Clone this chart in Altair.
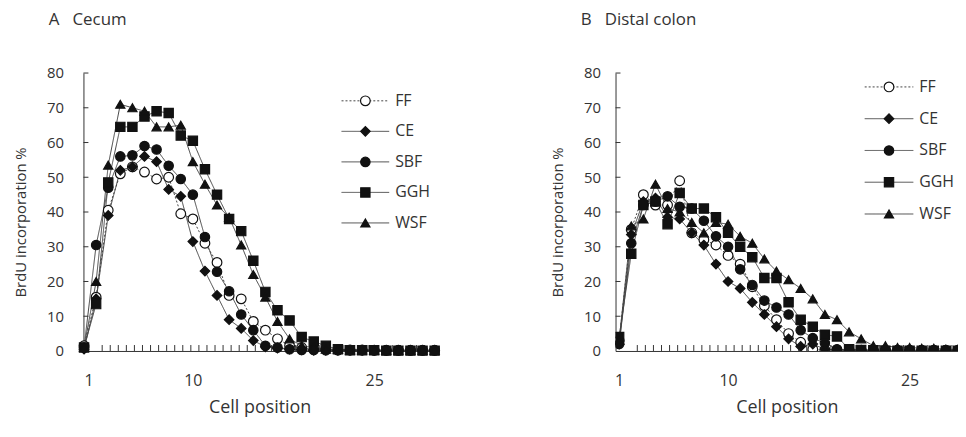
import altair as alt
import pandas as pd

positions = list(range(1, 31))
series = ["FF", "CE", "SBF", "GGH", "WSF"]

# Cecum (panel A)
cecum_ff = [1.5, 15.5, 40.5, 51, 53, 51.5, 49.5, 50, 39.5, 38, 31, 25.5, 16, 15, 8.5, 6, 3.5, 1.5, 1, 0.5,
            0.5, 0.3, 0.3, 0.3, 0.2, 0.2, 0.2, 0.2, 0.2, 0.2]
cecum_ce = [0.5, 15, 39, 52, 53, 56, 54.5, 46.5, 44.5, 31.5, 23, 16, 9, 6.5, 3, 1.2, 0.8, 0.5, 0.3, 0.2,
            0.2, 0.2, 0.2, 0.2, 0.2, 0.2, 0.2, 0.2, 0.2, 0.2]
cecum_sbf = [1, 30.5, 47, 56, 56.3, 59, 58, 53.3, 49.5, 45, 32.8, 22.8, 17.2, 10.5, 6, 1.5, 1, 0.5, 0.3, 0.3,
             0.2, 0.2, 0.2, 0.2, 0.2, 0.2, 0.2, 0.2, 0.2, 0.2]
cecum_ggh = [1, 13.5, 48.5, 64.5, 64.5, 67.5, 69, 68.5, 62, 60.5, 52.3, 45, 38, 34.5, 26, 17, 11.7, 8.8, 4, 2.7,
             1.5, 0.5, 0.2, 0.2, 0.2, 0.1, 0.1, 0.1, 0.1, 0.1]
cecum_wsf = [1, 20, 53.5, 71, 70, 69, 64.5, 64.5, 65, 54.5, 48, 42, 38.5, 30.5, 22, 15.5, 8.5, 3.5, 1.5, 1,
             0.5, 0.5, 0.3, 0.3, 0.2, 0.2, 0.2, 0.2, 0.2, 0.2]

# Distal colon (panel B)
colon_ff = [3, 35, 45, 42, 42, 49, 34, 32, 30.5, 27.5, 25, 18.5, 13, 9, 5, 2.5, 0.5, 0.3, 0.3, 0.2,
            0.2, 0.2, 0.2, 0.2, 0.2, 0.2, 0.2, 0.2, 0.2, 0.2]
colon_ce = [2, 33.5, 43, 44, 38.5, 38, 34, 30.5, 25, 20, 18, 14, 10.5, 7, 3.5, 1.3, 2, 0.5, 0.3, 0.2,
            0.2, 0.2, 0.2, 0.2, 0.2, 0.2, 0.2, 0.2, 0.2, 0.2]
colon_sbf = [2, 31, 42, 43, 44.5, 41.5, 41, 37.5, 33, 30, 23.5, 19, 14.5, 12.5, 10.5, 6, 3.7, 2.3, 0.5, 0.3,
             0.2, 0.2, 0.2, 0.2, 0.2, 0.2, 0.2, 0.2, 0.2, 0.2]
colon_ggh = [4, 28, 42, 43, 36.5, 45.5, 41, 41, 38.5, 34, 30, 27, 21, 21, 14, 9, 7, 4.7, 4.2, 0.5,
             0.3, 0.2, 0.1, 0.1, 0.1, 0.1, 0.1, 0.1, 0.1, 0.1]
colon_wsf = [3, 36, 38, 48, 41, 40, 37, 34, 37, 36.5, 33, 31, 26.5, 23, 20.5, 18, 15, 10.5, 9, 5.5,
             3.5, 1.5, 1.5, 1, 1, 0.8, 0.8, 0.5, 0.5, 0.5]

x_labels = [1, 10, 25]
y_values = [0, 10, 20, 30, 40, 50, 60, 70, 80]
y_ticks = [10, 20, 30, 40, 50, 60, 70, 80]
x_ticks = [2.5 + i * (2.0 / 3.0) for i in range(41)]

shapes = ["circle", "diamond", "circle", "square", "triangle-up"]
fills = ["white", "#111111", "#111111", "#111111", "#111111"]
sizes = [95, 85, 95, 115, 105]
dashes = [[2, 2], [1, 0], [1, 0], [1, 0], [1, 0]]

FONT = "Open Sans"
INK = "#333333"
H = 280


def long_df(cols):
    rows = []
    for name, vals in zip(series, cols):
        for p, v in zip(positions, vals):
            rows.append({"pos": p, "value": v, "series": name})
    return pd.DataFrame(rows)


def panel(cols, title, x_domain, width, ylab_pad, ytitle_pad, leg_range, leg_x, clip):
    df = long_df(cols)
    xs = alt.Scale(domain=x_domain, nice=False, zero=False)
    ys = alt.Scale(domain=[0, 80], nice=False, zero=True)
    x_axis = alt.Axis(
        values=x_labels, ticks=False, grid=False, title="Cell position",
        labelPadding=22, titlePadding=10, labelFontSize=16, titleFontSize=18,
        titleFontWeight="normal", domainColor=INK, domainWidth=1)
    x_enc = alt.X("pos:Q", scale=xs, axis=x_axis)
    y_axis_enc = alt.Y("value:Q", scale=ys, axis=alt.Axis(
        values=y_values, ticks=False, grid=False, title="BrdU incorporation %",
        labelPadding=ylab_pad, titlePadding=ytitle_pad, labelFontSize=15, titleFontSize=15,
        titleFontWeight="normal", domainColor=INK, domainWidth=1, titleY=H / 2 + 10))
    y_plain = alt.Y("value:Q", scale=ys, axis=None)
    dash_enc = alt.StrokeDash("series:N", scale=alt.Scale(domain=series, range=dashes), legend=None)
    shape_enc = alt.Shape("series:N", scale=alt.Scale(domain=series, range=shapes), legend=None)
    fill_enc = alt.Fill("series:N", scale=alt.Scale(domain=series, range=fills), legend=None)
    size_enc = alt.Size("series:N", scale=alt.Scale(domain=series, range=sizes), legend=None)

    lines = alt.Chart(df).mark_line(color="#444444", strokeWidth=1, clip=clip).encode(
        x=x_enc, y=y_axis_enc, detail="series:N", strokeDash=dash_enc)
    points = alt.Chart(df).mark_point(stroke="#111111", strokeWidth=1.2, opacity=1,
                                      fillOpacity=1, clip=clip).encode(
        x=x_enc, y=y_plain, shape=shape_enc, fill=fill_enc, size=size_enc)
    xt = alt.Chart(pd.DataFrame({"pos": [t for t in x_ticks if t < x_domain[1]]})).mark_rule(
        color=INK, strokeWidth=1).encode(
        x=x_enc, y=alt.value(H - 6), y2=alt.value(H))
    yt = alt.Chart(pd.DataFrame({"value": y_ticks})).mark_rule(color=INK, strokeWidth=1).encode(
        y=y_plain, x=alt.value(0), x2=alt.value(5))

    leg_df = pd.DataFrame({"series": series})
    ly = alt.Y("series:N", scale=alt.Scale(type="point", domain=series, range=leg_range, padding=0),
               axis=None)
    lr = alt.Chart(leg_df).mark_rule(color="#444444", strokeWidth=1).encode(
        x=alt.value(leg_x[0]), x2=alt.value(leg_x[1]), y=ly, strokeDash=dash_enc)
    lp = alt.Chart(leg_df).mark_point(stroke="#111111", strokeWidth=1.2, opacity=1,
                                      fillOpacity=1).encode(
        x=alt.value((leg_x[0] + leg_x[1]) / 2), y=ly, shape=shape_enc, fill=fill_enc, size=size_enc)
    lt = alt.Chart(leg_df).mark_text(align="left", baseline="middle", fontSize=16, font=FONT,
                                     color=INK).encode(
        x=alt.value(leg_x[1] + 6), y=ly, text="series:N")

    return alt.layer(lines, xt, yt, points, lr, lp, lt).resolve_scale(y="independent").properties(
        width=width, height=H,
        title=alt.TitleParams(title, anchor="start", frame="group", dx=-35, offset=37,
                              fontSize=17, font=FONT, fontWeight="normal", color=INK))


left = panel([cecum_ff, cecum_ce, cecum_sbf, cecum_ggh, cecum_wsf], "A\u00a0\u00a0\u00a0Cecum",
             [0.95, 30.1], 355, 20, 18, [28, 151], [260, 308], False)
right = panel([colon_ff, colon_ce, colon_sbf, colon_ggh, colon_wsf], "B\u00a0\u00a0\u00a0Distal colon",
              [0.7, 29.0], 345, 15, 18, [14, 142], [251, 300], True)

chart = alt.hconcat(left, right, spacing=108).properties(
    padding={"left": 5, "top": 2, "right": 0, "bottom": 0}
).configure_view(stroke=None).configure_axis(
    labelFont=FONT, titleFont=FONT, labelColor=INK, titleColor=INK
)

chart.save("out.html", embed_options={"renderer": "svg", "actions": False})
